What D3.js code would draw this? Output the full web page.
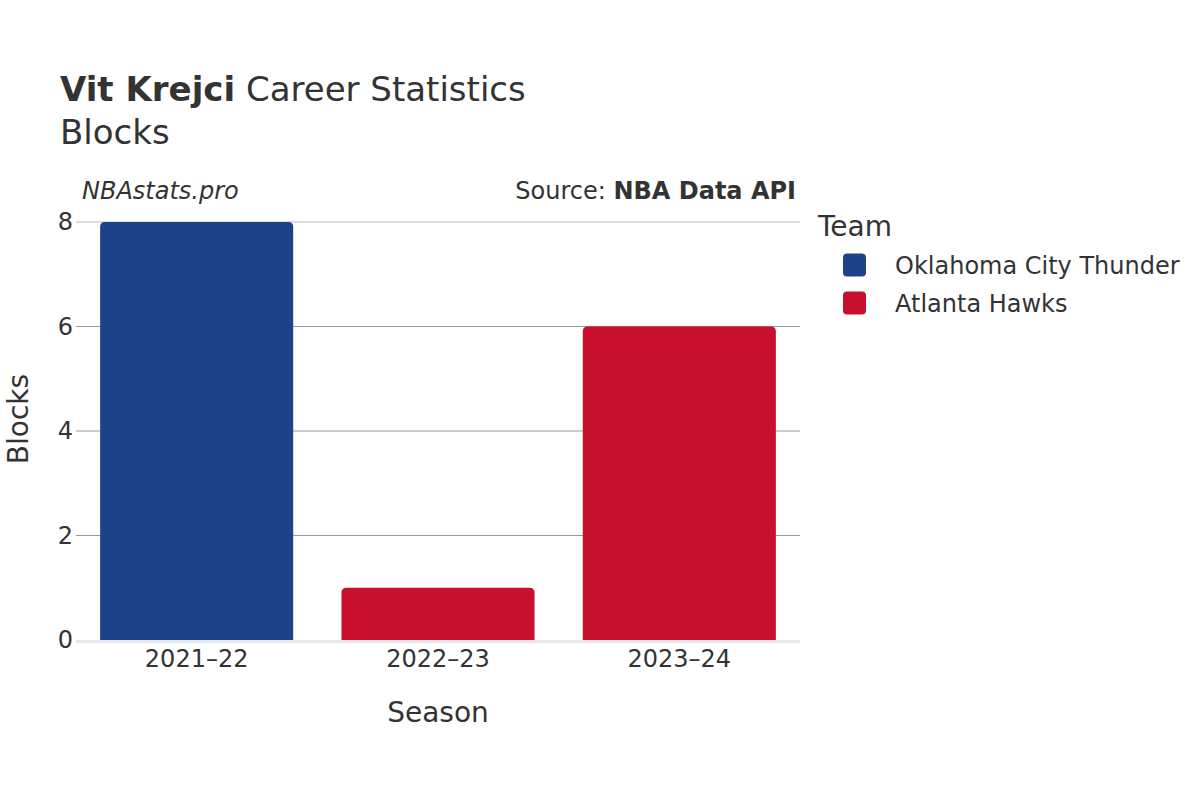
<!DOCTYPE html>
<html><head><meta charset="utf-8">
<script src="https://cdn.jsdelivr.net/npm/d3@7"></script>
<style>body{margin:0;background:#fff}svg{font-family:"DejaVu Sans",sans-serif}</style>
</head><body><svg id="c" width="1200" height="800"></svg>
<script>
const seasons = ["2021–22", "2022–23", "2023–24"];
const teams = ["Oklahoma City Thunder", "Atlanta Hawks", "Atlanta Hawks"];
const blocks = [8, 1, 6];
const legendTeams = ["Oklahoma City Thunder", "Atlanta Hawks"];
const teamColors = ["#1d428a", "#c8102e"];
const yTicks = [0, 2, 4, 6, 8];

(function () {
const svg = d3.select("#c");
const pl = 76, pr = 800, pt = 222, pb = 640;
const x = d3.scaleBand().domain(seasons).range([pl, pr]).paddingInner(0.2).paddingOuter(0.1);
const y = d3.scaleLinear().domain([0, 8]).range([pb, pt]);
const color = d3.scaleOrdinal().domain(legendTeams).range(teamColors);
const txt = "#333";

// gridlines
svg.append("g").selectAll("line").data(yTicks.filter(d => d > 0)).join("line")
  .attr("x1", pl).attr("x2", pr).attr("y1", d => y(d)).attr("y2", d => y(d))
  .attr("stroke", (d) => d === 8 ? "#bbb" : "#999").attr("stroke-width", 1);

// bars with rounded tops
const r = 5;
svg.append("g").selectAll("path").data(seasons).join("path")
  .attr("d", (s, i) => {
    const x0 = x(s), w = x.bandwidth(), y0 = y(blocks[i]), yb = y(0);
    return `M${x0},${yb}V${y0 + r}Q${x0},${y0} ${x0 + r},${y0}H${x0 + w - r}Q${x0 + w},${y0} ${x0 + w},${y0 + r}V${yb}Z`;
  })
  .attr("fill", (s, i) => color(teams[i]));

// baseline
svg.append("line").attr("x1", pl).attr("x2", pr).attr("y1", y(0) + 1.5).attr("y2", y(0) + 1.5)
  .attr("stroke", "#e8e8e8").attr("stroke-width", 3);

// y axis labels
const ya = svg.append("g").attr("transform", `translate(${pl},0)`)
  .call(d3.axisLeft(y).tickValues(yTicks).tickSize(0).tickPadding(3));
ya.select(".domain").remove();
ya.selectAll("text").attr("font-size", 24).attr("fill", txt).attr("font-family", "DejaVu Sans");

// x axis labels
const xa = svg.append("g").attr("transform", `translate(0,${pb})`)
  .call(d3.axisBottom(x).tickSize(0).tickPadding(10));
xa.select(".domain").remove();
xa.selectAll("text").attr("font-size", 24).attr("fill", txt).attr("font-family", "DejaVu Sans");

// titles
const t = svg.append("text").attr("x", 60).attr("y", 101).attr("font-size", 34).attr("fill", txt);
t.append("tspan").attr("font-weight", "bold").text("Vit Krejci");
t.append("tspan").text(" Career Statistics");
svg.append("text").attr("x", 60).attr("y", 144).attr("font-size", 34).attr("fill", txt).text("Blocks");

svg.append("text").attr("x", 82).attr("y", 199).attr("font-size", 24).attr("font-style", "italic").attr("fill", txt).text("NBAstats.pro");
const src = svg.append("text").attr("x", 796).attr("y", 199).attr("text-anchor", "end").attr("font-size", 24).attr("fill", txt);
src.append("tspan").text("Source: ");
src.append("tspan").attr("font-weight", "bold").text("NBA Data API");

svg.append("text").attr("x", 438).attr("y", 722).attr("text-anchor", "middle").attr("font-size", 28).attr("fill", txt).text("Season");
svg.append("text").attr("transform", "translate(28,419) rotate(-90)").attr("text-anchor", "middle").attr("font-size", 28).attr("fill", txt).text("Blocks");

// legend
svg.append("text").attr("x", 818).attr("y", 236).attr("font-size", 28).attr("fill", txt).text("Team");
const lg = svg.append("g").selectAll("g").data(legendTeams).join("g")
  .attr("transform", (d, i) => `translate(0,${265 + i * 38})`);
lg.append("rect").attr("x", 843).attr("y", -11.5).attr("width", 23).attr("height", 23).attr("rx", 4)
  .attr("fill", d => color(d));
lg.append("text").attr("x", 895).attr("y", 9).attr("font-size", 24).attr("fill", txt).text(d => d);
})();
</script></body></html>
